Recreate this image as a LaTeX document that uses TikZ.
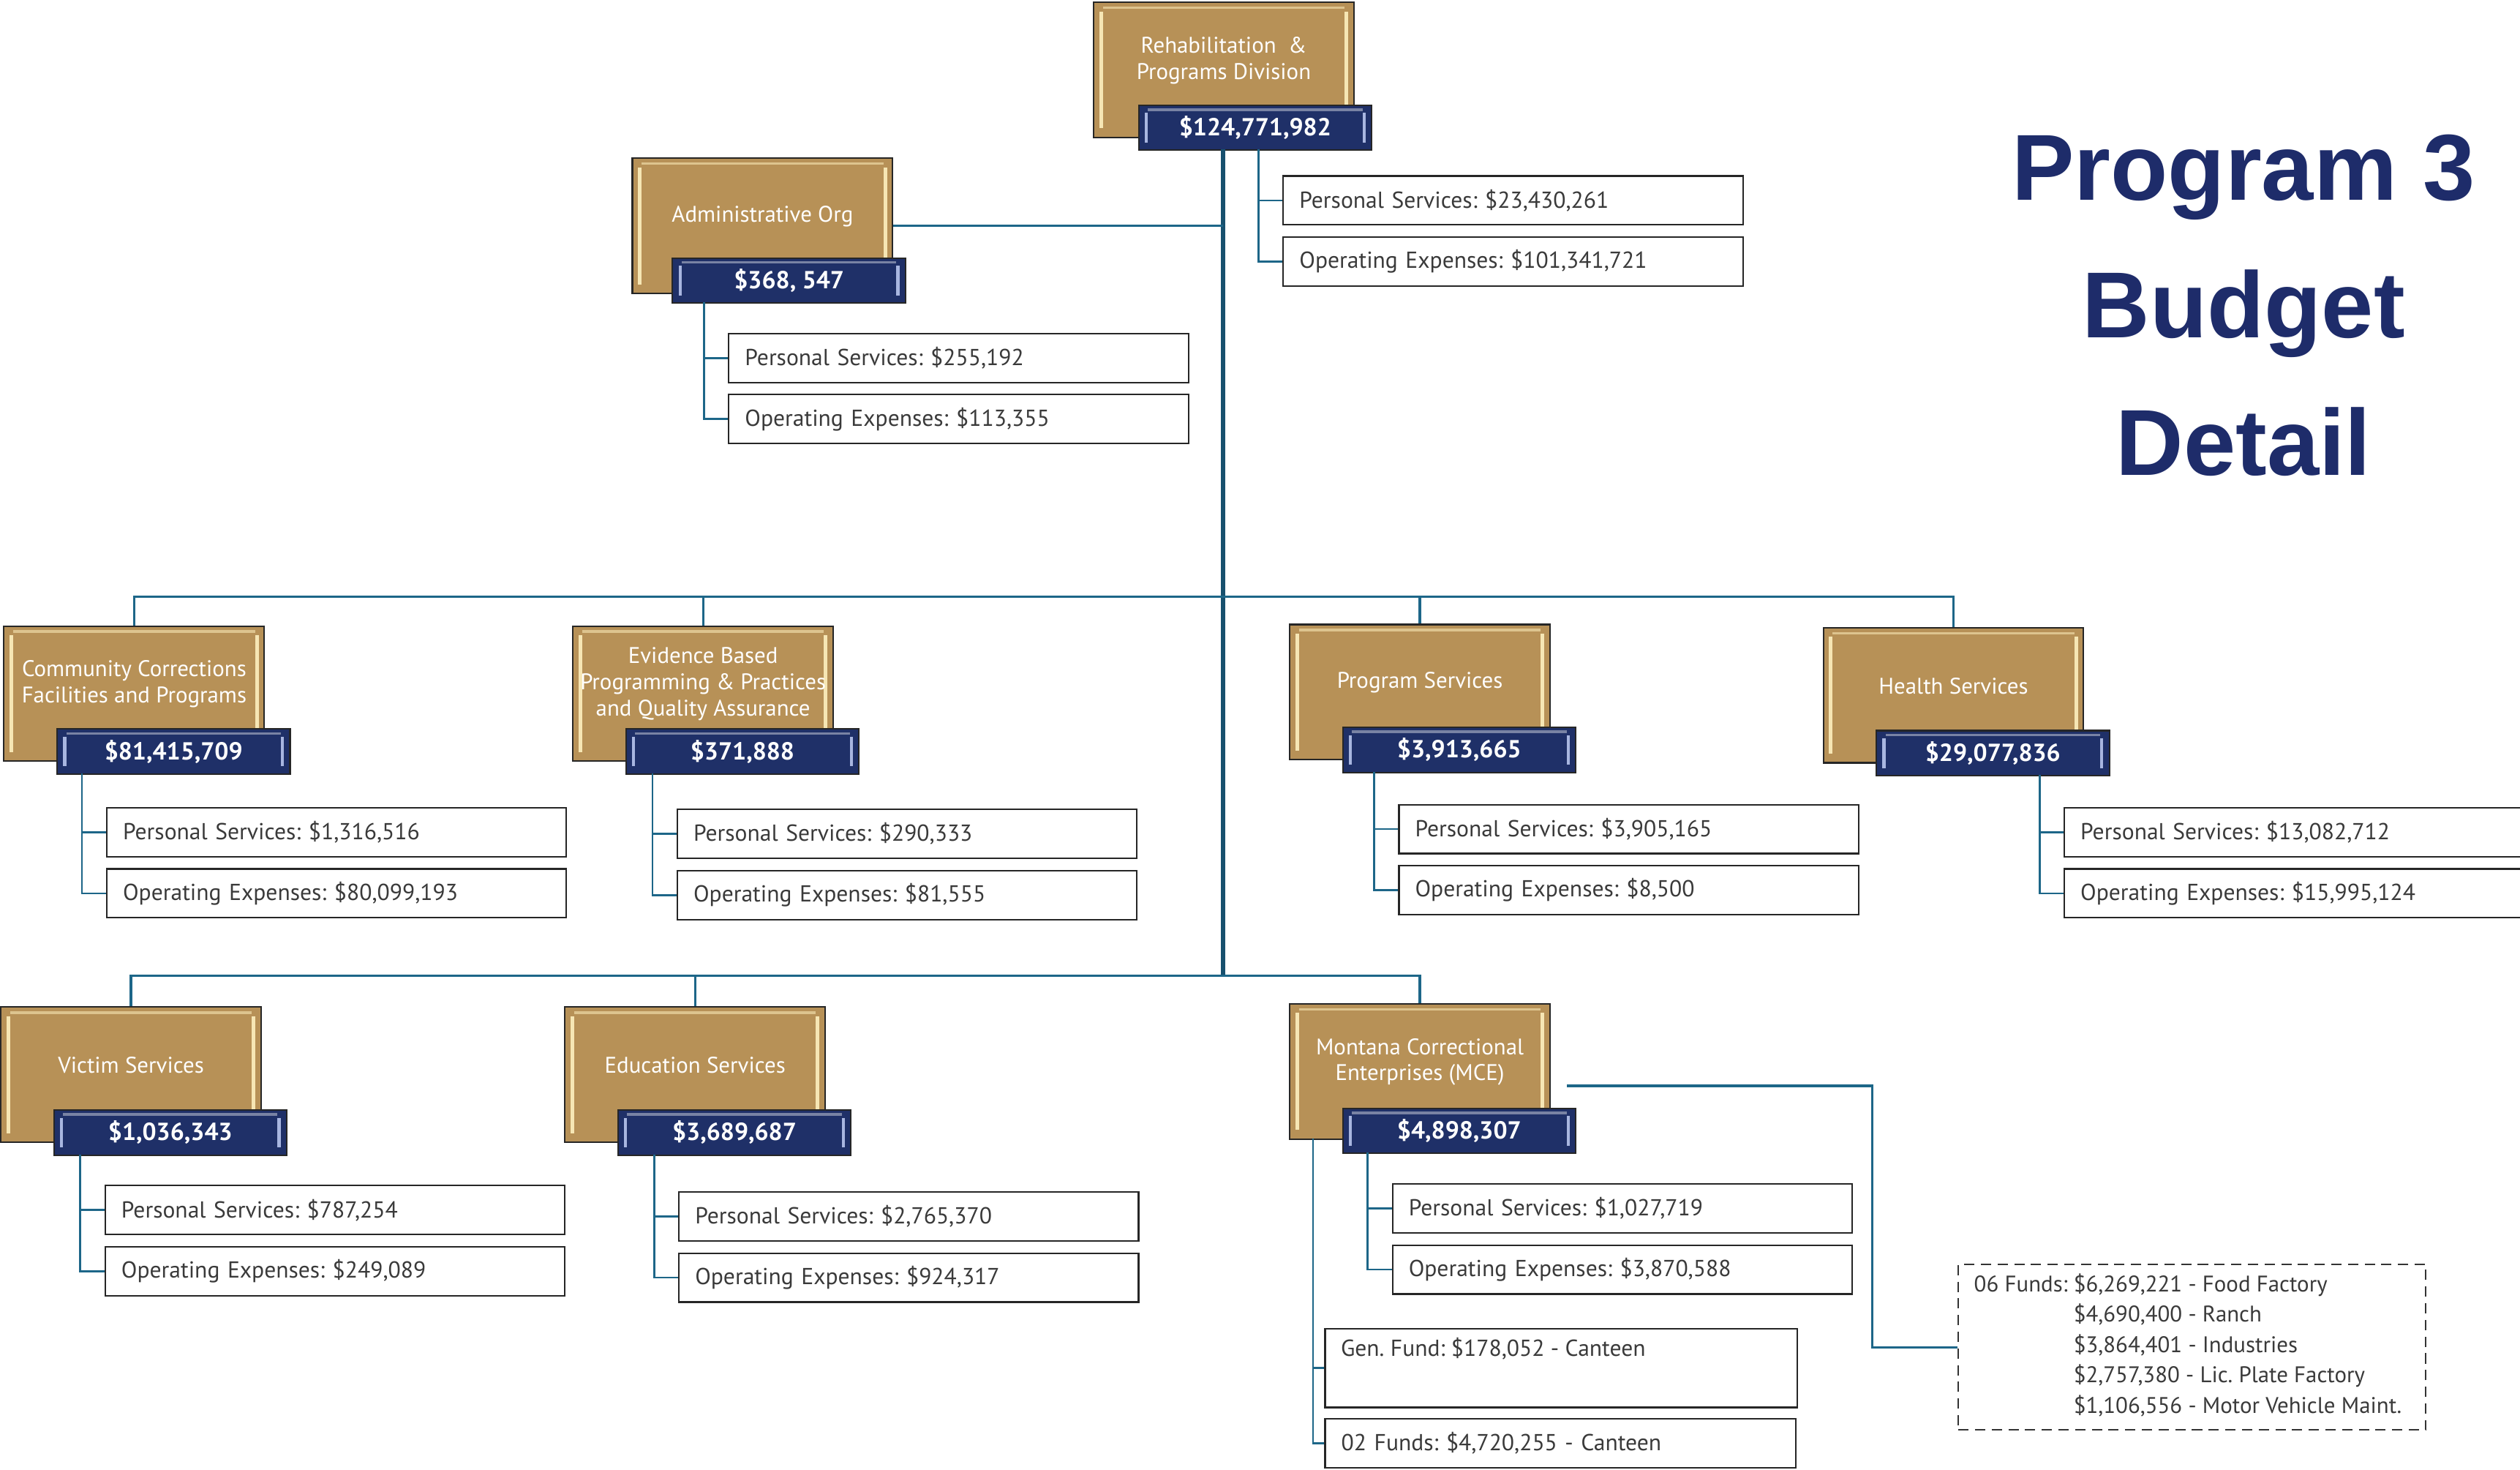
\documentclass[tikz,border=0pt]{standalone}
\usepackage{fontspec}
\setmainfont{PT Sans}
\newfontfamily\titlefont{Liberation Sans}
\usetikzlibrary{calc}
\frenchspacing
\definecolor{gold}{HTML}{B79157}
\definecolor{goldhl}{HTML}{F6E6B4}
\definecolor{navy}{HTML}{1F3068}
\definecolor{navyhl}{HTML}{A8B6E0}
\definecolor{connc}{HTML}{1D6688}
\definecolor{trunkc}{HTML}{17506E}
\definecolor{titlec}{HTML}{1E2C6A}
\definecolor{txt}{HTML}{3A3A3A}
\newcommand\detailfont{\fontsize{9}{11}\selectfont}
\newcommand\goldfont{\fontsize{8.8}{10.2}\selectfont}
\newcommand\amtfont{\fontsize{9.6}{10}\selectfont\bfseries}
\tikzset{
  goldbox/.style={draw=black!85, line width=0.6pt, fill=gold, minimum width=3.564cm,
    minimum height=1.848cm, inner sep=0pt, anchor=north west,
    path picture={
      \fill[goldhl] ([xshift=2.2pt,yshift=-3.5pt]path picture bounding box.north west) rectangle ([xshift=3.6pt,yshift=3.5pt]path picture bounding box.south west);
      \fill[goldhl] ([xshift=-2.2pt,yshift=-3.5pt]path picture bounding box.north east) rectangle ([xshift=-3.6pt,yshift=3.5pt]path picture bounding box.south east);
      \fill[goldhl!60!gold] ([xshift=3.6pt,yshift=-1.6pt]path picture bounding box.north west) rectangle ([xshift=-3.6pt,yshift=-2.6pt]path picture bounding box.north east);
    }},
  goldtext/.style={text=white, font=\goldfont, align=center, inner sep=0pt},
  bluebar/.style={draw=black!85, line width=0.6pt, fill=navy, minimum width=3.19cm,
    minimum height=0.616cm, inner sep=0pt, anchor=north west, text=white, font=\amtfont,
    path picture={
      \fill[navyhl] ([xshift=2.4pt,yshift=-3pt]path picture bounding box.north west) rectangle ([xshift=3.6pt,yshift=3pt]path picture bounding box.south west);
      \fill[navyhl] ([xshift=-2.4pt,yshift=-3pt]path picture bounding box.north east) rectangle ([xshift=-3.6pt,yshift=3pt]path picture bounding box.south east);
      \fill[navy!60!white] ([xshift=3.6pt,yshift=-1.2pt]path picture bounding box.north west) rectangle ([xshift=-3.6pt,yshift=-2.2pt]path picture bounding box.north east);
    }},
  detail/.style={draw=black!85, line width=0.6pt, fill=white, minimum width=6.292cm,
    minimum height=0.67cm, anchor=north west, text width=5.85cm, align=left,
    inner xsep=0.22cm, inner ysep=0pt, font=\detailfont, text=txt},
  dashbox/.style={draw=black!80, line width=0.6pt, dash pattern=on 4pt off 2.5pt,
    minimum width=6.402cm, minimum height=2.266cm, anchor=north west, inner sep=0pt},
  conn/.style={draw=connc, line width=0.9pt},
  trunk/.style={draw=trunkc, line width=1.6pt},
  sub/.style={draw=connc, line width=0.8pt},
}
\def\bdx{33}\def\bdy{64}
\newcommand\orgunit[9]{%
  \node[goldbox] (#1g) at (#2,#3) {};
  \node[goldtext] (#1t) at ([yshift=0.13cm]#1g.center) {#6};
  \node[bluebar] (#1b) at (#2+\bdx,#3+\bdy) {#7};
  \node[detail] (#1p) at (#4+15,#5) {#8};
  \node[detail] (#1o) at (#4+15,#5+38) {#9};
  \coordinate (#1s) at (#4,#3+\bdy+28);
  \draw[sub] (#1s) |- (#1o.west);
  \draw[sub] (#1s |- #1p.west) -- (#1p.west);
}
\begin{document}
\begin{tikzpicture}[x=0.022cm, y=-0.022cm]
\useasboundingbox (0,0) rectangle (1568,914);
\fill[white] (0,0) rectangle (1568,914);
\clip (0,0) rectangle (1568,914);

% connectors of the main tree
\coordinate (trtop) at (761,93);
\coordinate (bus1) at (761,371);
\coordinate (bus2) at (761,607);

% title
\node[text=titlec, align=center, font=\titlefont\bfseries\fontsize{36.5}{53.5}\selectfont] (title) at (1396,190) {Program 3\\Budget\\Detail};

% units
\def\bdx{28}\def\bdy{64}
\orgunit{rp}{680}{1}{783}{109}{Rehabilitation \ \&\\Programs Division}{\$124,771,982}{Personal Services: \$23,430,261}{Operating Expenses: \$101,341,721}
\def\bdx{25}\def\bdy{62}
\orgunit{ad}{393}{98}{438}{207}{Administrative Org}{\$368, 547}{Personal Services: \$255,192}{Operating Expenses: \$113,355}
\def\bdx{33}\def\bdy{64}
\orgunit{cc}{2}{389}{51}{502}{Community Corrections\\Facilities and Programs}{\$81,415,709}{Personal Services: \$1,316,516}{Operating Expenses: \$80,099,193}
\orgunit{eb}{356}{389}{406}{503}{Evidence Based\\Programming \& Practices\\and Quality Assurance}{\$371,888}{Personal Services: \$290,333}{Operating Expenses: \$81,555}
\orgunit{ps}{802}{388}{855}{500}{Program Services}{\$3,913,665}{Personal Services: \$3,905,165}{Operating Expenses: \$8,500}
\orgunit{hs}{1134}{390}{1269}{502}{Health Services}{\$29,077,836}{Personal Services: \$13,082,712}{Operating Expenses: \$15,995,124}
\orgunit{vs}{0}{626}{50}{737}{Victim Services}{\$1,036,343}{Personal Services: \$787,254}{Operating Expenses: \$249,089}
\orgunit{es}{351}{626}{407}{741}{Education Services}{\$3,689,687}{Personal Services: \$2,765,370}{Operating Expenses: \$924,317}
\def\bdy{65}
\orgunit{mc}{802}{624}{851}{736}{Montana Correctional\\Enterprises (MCE)}{\$4,898,307}{Personal Services: \$1,027,719}{Operating Expenses: \$3,870,588}

% trunk and buses
\draw[trunk] (trtop) -- (bus2);
\draw[conn] (adg.east) -- (adg.east -| trtop);
\draw[conn] (ccg.north) -- (ccg.north |- bus1) -- (hsg.north |- bus1) -- (hsg.north);
\draw[conn] (ebg.north) -- (ebg.north |- bus1);
\draw[conn] (psg.north) -- (psg.north |- bus1);
\draw[conn] (vsg.north) -- (vsg.north |- bus2) -- (mcg.north |- bus2) -- (mcg.north);
\draw[conn] (esg.north) -- (esg.north |- bus2);

% MCE canteen funds
\node[detail, minimum width=6.468cm, minimum height=1.078cm] (gen) at (824,826) {};
\node[anchor=west, font=\detailfont, text=txt, inner sep=0pt] (gentxt) at (834,839) {Gen. Fund: \$178,052 - Canteen};
\node[detail, minimum width=6.446cm, text width=6.0cm] (f02) at (824,882) {02 Funds: \$4,720,255 - Canteen};
\coordinate (mcl) at (817,708);
\draw[sub] (mcl) |- (f02.west);
\draw[sub] (mcl |- gen.west) -- (gen.west);

% MCE 06 funds
\node[dashbox] (dash) at (1218,786) {};
\node[anchor=west, inner sep=0pt, text=txt, font=\fontsize{8.8}{11.8}\selectfont] (dashtxt) at (1228,837.5) {%
  \begin{tabular}{@{}l@{ }l@{}}
  06 Funds: & \$6,269,221 - Food Factory\\
   & \$4,690,400 - Ranch\\
   & \$3,864,401 - Industries\\
   & \$2,757,380 - Lic. Plate Factory\\
   & \$1,106,556 - Motor Vehicle Maint.
  \end{tabular}};
\coordinate (mceout) at ($(mcg.east)+(10,9)$);
\draw[conn] (mceout) -| ($(dash.west)+(-53,0)$) -- (dash.west);
\end{tikzpicture}
\end{document}
